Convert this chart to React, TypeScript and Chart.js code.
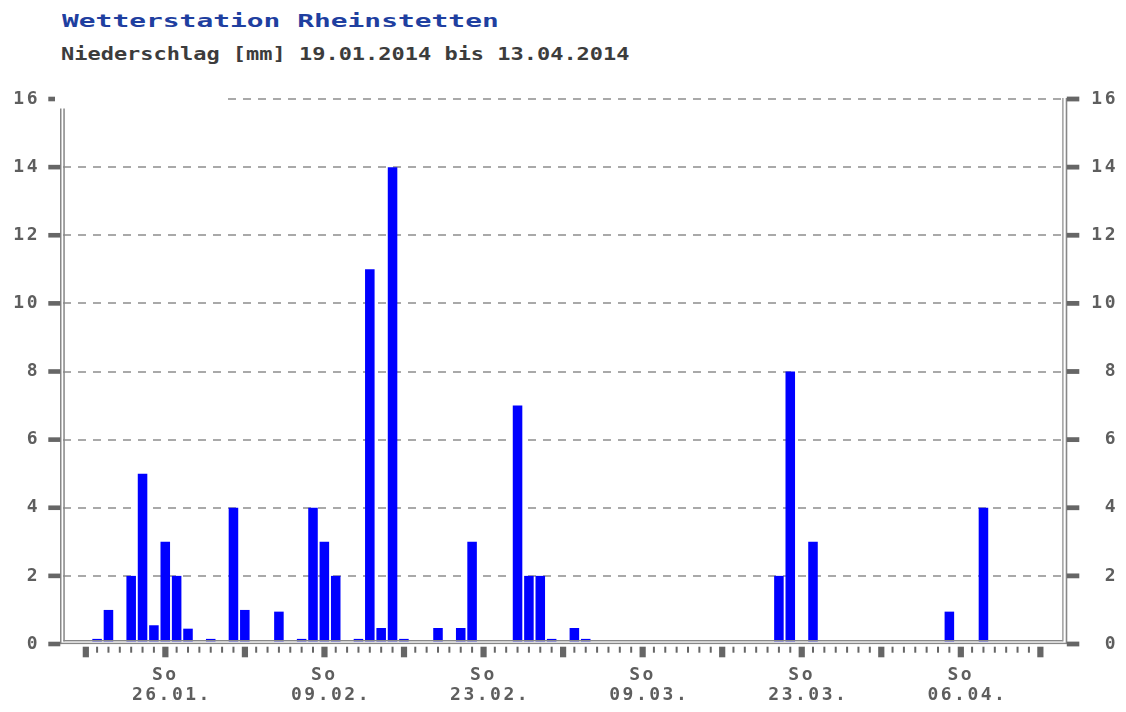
import React, { useEffect, useRef } from 'react';
import { Chart, registerables } from 'chart.js';

Chart.register(...registerables);

const stationTitle = 'Wetterstation Rheinstetten';
const subTitle = 'Niederschlag [mm] 19.01.2014 bis 13.04.2014';

// daily precipitation [mm], index 0 = Sunday 19.01.2014 ... index 84 = Sunday 13.04.2014
const precipitation: number[] = [
  0, 0.15, 1, 0, 2, 5, 0.55, 3, 2, 0.45,
  0, 0.15, 0, 4, 1, 0, 0, 0.95, 0, 0.15,
  4, 3, 2, 0, 0.15, 11, 0.47, 14, 0.15, 0,
  0, 0.47, 0, 0.47, 3, 0, 0, 0, 7, 2,
  2, 0.15, 0, 0.47, 0.15, 0, 0, 0, 0, 0,
  0, 0, 0, 0, 0, 0, 0, 0, 0, 0,
  0, 2, 8, 0, 3, 0, 0, 0, 0, 0,
  0, 0, 0, 0, 0, 0, 0.95, 0, 0, 4,
  0, 0, 0, 0, 0,
];

const weekdayLabel = 'So';
const labelDays = [7, 21, 35, 49, 63, 77];
const labelDates = ['26.01.', '09.02.', '23.02.', '09.03.', '23.03.', '06.04.'];
const yMin = 0;
const yMax = 16;
const yStep = 2;

const axisFont = { family: "'DejaVu Sans Mono'", size: 18, weight: 'bold' as const, lineHeight: 20 / 18 };
const labelColor = '#5e5e5e';
const tickColor = '#666666';
const frameColor = '#878787';

const framePlugin = {
  id: 'framePlugin',
  beforeDraw(chart: any) {
    chart.ctx.letterSpacing = '2.5px';
  },
  afterDatasetsDraw(chart: any) {
    const { ctx, chartArea } = chart;
    const L = chartArea.left;
    const R = chartArea.right;
    const T = chartArea.top;
    const B = chartArea.bottom;
    const xs = chart.scales.x;
    const ys = chart.scales.y;
    ctx.save();
    // clean band below inner bottom line
    ctx.fillStyle = '#ffffff';
    ctx.fillRect(L - 3, B - 2.6, R - L + 8, 4);
    ctx.fillStyle = frameColor;
    // left double line
    ctx.fillRect(L - 3, T, 1.5, B - T + 0.1);
    ctx.fillRect(L + 0.3, T, 1.5, B - T - 2.6);
    // bottom double line
    ctx.fillRect(L + 0.3, B - 4, R - L - 0.6, 1.4);
    ctx.fillRect(L - 3, B - 1.3, R - L + 7.3, 1.4);
    // right double line
    ctx.fillRect(R - 0.7, T - 1, 1.2, B - T - 1.6);
    ctx.fillRect(R + 2.7, T - 1, 1.6, B - T + 0.4);

    // y tick marks both sides
    ctx.fillStyle = tickColor;
    for (const t of ys.ticks) {
      const y = ys.getPixelForValue(t.value);
      ctx.fillRect(L - 14.7, y - 2.3, 12, 4.6);
      ctx.fillRect(R + 3.8, y - 2.4, 12.5, 4.8);
    }
    // x tick marks: every day, Sundays bigger
    for (let d = 0; d < precipitation.length; d++) {
      const x = xs.getPixelForValue(d);
      if (d % 7 === 0) {
        ctx.fillRect(x - 3, B + 2.7, 6.2, 10.6);
      } else {
        ctx.fillRect(x - 1, B + 2.7, 2, 6);
      }
    }
    ctx.restore();
  },
  afterDraw(chart: any) {
    const { ctx, chartArea } = chart;
    const L = chartArea.left;
    const T = chartArea.top;
    ctx.save();
    ctx.fillStyle = '#ffffff';
    ctx.fillRect(L - 8, T - 7, 167, 16.5);
    ctx.restore();
  },
};

export default function App() {
  const canvasRef = useRef<HTMLCanvasElement | null>(null);

  useEffect(() => {
    const canvas = canvasRef.current;
    if (!canvas) return;
    const chart = new Chart(canvas, {
      type: 'bar',
      data: {
        datasets: [
          {
            label: 'Niederschlag',
            data: precipitation.map((v, i) => ({ x: i, y: v })),
            backgroundColor: '#0000ff',
            borderWidth: 0,
            categoryPercentage: 1,
            barPercentage: 0.84,
          },
        ],
      },
      options: {
        responsive: false,
        animation: false,
        devicePixelRatio: 1,
        layout: { padding: { top: 99, right: 8, left: 0, bottom: 0 } },
        plugins: {
          legend: { display: false },
          tooltip: { enabled: false },
          title: { display: false },
        },
        scales: {
          x: {
            type: 'linear',
            min: -2,
            max: 86,
            offset: false,
            grid: { display: false, drawTicks: false },
            border: { display: false },
            afterBuildTicks: (scale: any) => {
              scale.ticks = labelDays.map((v) => ({ value: v }));
            },
            afterFit: (scale: any) => {
              scale.height = 68;
            },
            ticks: {
              autoSkip: false,
              maxRotation: 0,
              minRotation: 0,
              padding: 21,
              color: labelColor,
              font: axisFont,
              callback: (value: any) => {
                const idx = labelDays.indexOf(Number(value));
                return idx >= 0 ? [weekdayLabel, ' ' + labelDates[idx]] : '';
              },
            },
          },
          y: {
            position: 'left',
            min: yMin,
            max: yMax,
            grid: {
              drawTicks: false,
              lineWidth: 2,
              color: (c: any) => (c.tick && c.tick.value === 0 ? 'rgba(0,0,0,0)' : '#a9a9a9'),
            },
            border: { display: false, dash: [8, 7] },
            afterFit: (scale: any) => {
              scale.width = 63;
            },
            ticks: {
              stepSize: yStep,
              padding: 23,
              color: labelColor,
              font: axisFont,
            },
          },
          y2: {
            position: 'right',
            min: yMin,
            max: yMax,
            grid: { display: false, drawTicks: false },
            border: { display: false },
            afterFit: (scale: any) => {
              scale.width = 55;
            },
            ticks: {
              stepSize: yStep,
              crossAlign: 'far',
              padding: 0,
              color: labelColor,
              font: axisFont,
            },
          },
        },
      },
      plugins: [framePlugin],
    } as any);
    return () => chart.destroy();
  }, []);

  return (
    <div
      style={{
        position: 'absolute',
        left: 0,
        top: 0,
        width: 1126,
        height: 712,
        background: '#ffffff',
        overflow: 'hidden',
      }}
    >
      <div
        style={{
          position: 'absolute',
          left: 61.5,
          top: 11.5,
          font: "bold 18px 'DejaVu Sans Mono'",
          lineHeight: '18px',
          color: '#1f3fa0',
          transform: 'scaleX(1.55)',
          transformOrigin: 'left top',
          whiteSpace: 'nowrap',
        }}
      >
        {stationTitle}
      </div>
      <div
        style={{
          position: 'absolute',
          left: 61,
          top: 44.8,
          font: "bold 18px 'DejaVu Sans Mono'",
          lineHeight: '18px',
          color: '#3c3c3c',
          transform: 'scaleX(1.22)',
          transformOrigin: 'left top',
          whiteSpace: 'nowrap',
        }}
      >
        {subTitle}
      </div>
      <canvas
        ref={canvasRef}
        width={1126}
        height={712}
        style={{ position: 'absolute', left: 0, top: 0, width: 1126, height: 712, display: 'block' }}
      />
    </div>
  );
}
